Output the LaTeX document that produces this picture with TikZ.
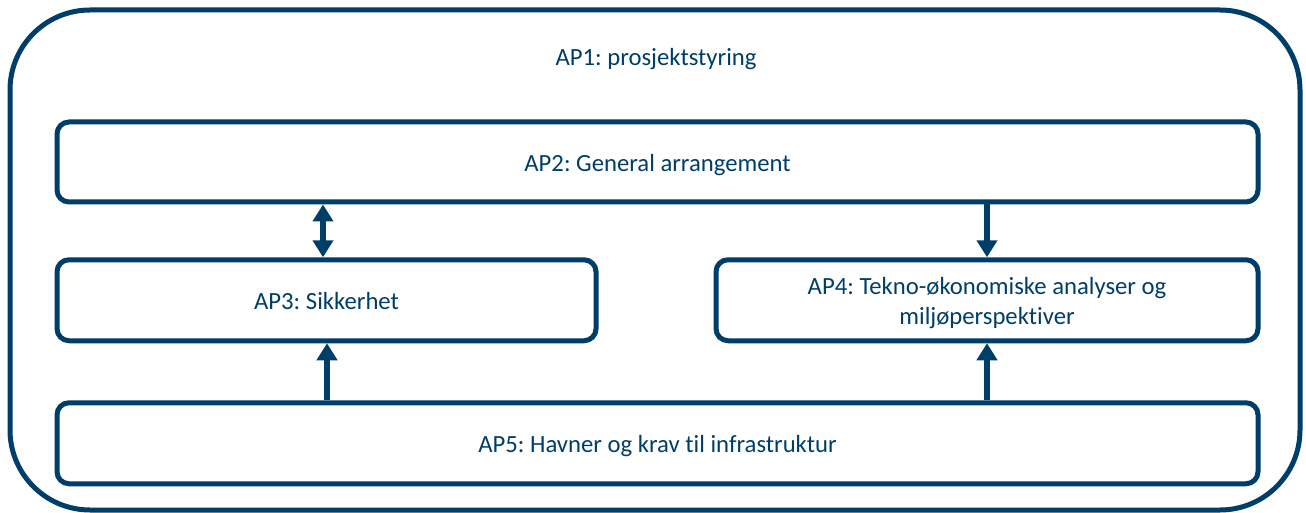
\documentclass[tikz,border=0pt]{standalone}
\usepackage{fontspec}
\setmainfont{Carlito}[Ligatures=NoCommon]
\usetikzlibrary{arrows.meta}
\definecolor{navy}{RGB}{0,62,106}
\frenchspacing
\newcommand{\boxtext}[2]{\raisebox{#1}[0pt][0pt]{#2}}
\tikzset{
  box/.style={draw=navy, line width=5pt, rounded corners=12pt, outer sep=0pt, inner sep=0pt, text=navy, align=center, font=\frenchspacing\fontsize{24.7}{30}\selectfont},
  arr/.style={draw=navy, line width=5.5pt, -{Triangle[width=20pt,length=17pt]}, shorten >=2.5pt, shorten <=2.5pt},
  darr/.style={draw=navy, line width=5.5pt, {Triangle[width=20pt,length=17pt]}-{Triangle[width=20pt,length=17pt]}, shorten >=2.5pt, shorten <=2.5pt}
}
\begin{document}
\begin{tikzpicture}[x=1pt,y=-1pt]
\useasboundingbox (0,0) rectangle (1306,513);
\node[box, rounded corners=80pt, minimum width=1290pt, minimum height=500pt] (ap1) at (655,260) {};
\node[text=navy, anchor=base, inner sep=0pt, font=\frenchspacing\fontsize{24.7}{30}\selectfont] (t1) at (656,66) {AP1: prosjektstyring};
\node[box, minimum width=1201pt, minimum height=80pt] (ap2) at (657.5,162) {\boxtext{-9.5pt}{AP2: General arrangement}};
\node[box, minimum width=539pt, minimum height=81pt] (ap3) at (326.5,300.25) {\boxtext{-9pt}{AP3: Sikkerhet}};
\node[box, minimum width=542pt, minimum height=81pt] (ap4) at (987,300.25) {\boxtext{5.5pt}{\begin{tabular}[t]{@{}c@{}}AP4: Tekno-økonomiske analyser og\\miljøperspektiver\end{tabular}}};
\node[box, minimum width=1201pt, minimum height=81pt] (ap5) at (657.5,443.25) {\boxtext{-9pt}{AP5: Havner og krav til infrastruktur}};
\coordinate (xl) at (323,0);
\coordinate (xlu) at (327,0);
\coordinate (xr) at (987,0);
\draw[darr] (ap2.south -| xl) -- (ap3.north -| xl);
\draw[arr] (ap5.north -| xlu) -- (ap3.south -| xlu);
\draw[arr] (ap2.south -| xr) -- (ap4.north -| xr);
\draw[arr] (ap5.north -| xr) -- (ap4.south -| xr);
\end{tikzpicture}
\end{document}
